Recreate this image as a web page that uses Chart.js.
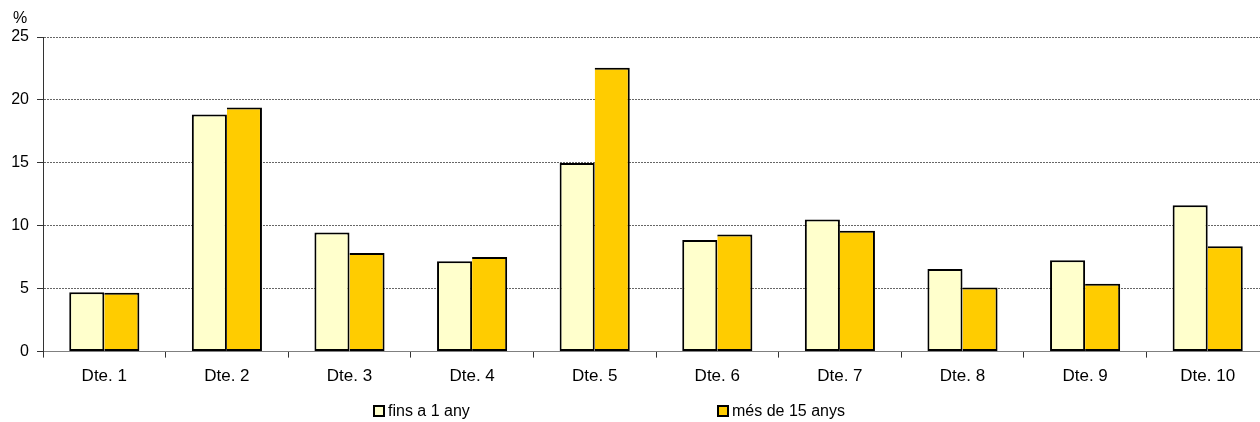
<!DOCTYPE html>
<html>
<head>
<meta charset="utf-8">
<script src="https://cdn.jsdelivr.net/npm/chart.js@4.4.1/dist/chart.umd.min.js"></script>
<style>
    html, body { margin: 0; padding: 0; background: #fff; overflow: hidden; }
    #wrap { position: relative; width: 1260px; height: 422px; overflow: hidden; }
    #box { position: absolute; left: 0; top: 0; width: 1270px; height: 422px; }
    .leg { position: absolute; top: 402px; display: flex; align-items: center;
           font-family: "Liberation Sans", Arial, sans-serif; font-size: 16px; color: #000; line-height: 18px; }
    .leg span.sw { display: inline-block; width: 8px; height: 8px; border: 2px solid #000; margin-right: 3px; }
</style>
</head>
<body>
<div id="wrap">
    <div id="box"><canvas id="barChart"></canvas></div>
</div>
<script>
// districtes
const labels = ["Dte. 1", "Dte. 2", "Dte. 3", "Dte. 4", "Dte. 5", "Dte. 6", "Dte. 7", "Dte. 8", "Dte. 9", "Dte. 10"];
const finsData = [4.72, 18.85, 9.47, 7.17, 14.98, 8.87, 10.5, 6.56, 7.25, 11.62];
const mesData = [4.67, 19.4, 7.83, 7.52, 22.56, 9.31, 9.6, 5.1, 5.4, 8.38];
const seriesNames = ["fins a 1 any", "més de 15 anys"];
const seriesColors = ["#FFFFCC", "#FFCC00"];
const yTicks = [0, 5, 10, 15, 20, 25];

const FONT = "'Liberation Sans', Arial, sans-serif";

// "%" sobre l'eix
const percentLabel = {
    id: 'percentLabel',
    afterDraw(chart) {
        const ctx = chart.ctx;
        const y = chart.scales.y;
        ctx.save();
        ctx.font = "16px " + FONT;
        ctx.fillStyle = "#000";
        ctx.textAlign = "center";
        ctx.textBaseline = "middle";
        ctx.fillText("%", y.left + 20, y.top - 18);
        ctx.restore();
    }
};

new Chart("barChart", {
    type: "bar",
    data: {
        labels: labels,
        datasets: [{
            label: seriesNames[0],
            data: finsData,
            backgroundColor: seriesColors[0],
            borderColor: "#000",
            borderWidth: 2,
            borderSkipped: false,
            inflateAmount: 0
        }, {
            label: seriesNames[1],
            data: mesData,
            backgroundColor: seriesColors[1],
            borderColor: "#000",
            borderWidth: {top: 2, left: 0, bottom: 2, right: 2},
            borderSkipped: false,
            inflateAmount: 0
        }]
    },
    options: {
        responsive: true,
        maintainAspectRatio: false,
        animation: false,
        layout: { padding: { top: 37, left: 0, right: 1, bottom: 26 } },
        datasets: { bar: { categoryPercentage: 0.572, barPercentage: 1.0 } },
        plugins: {
            legend: { display: false },
            tooltip: { enabled: false }
        },
        scales: {
            x: {
                grid: { display: true, drawOnChartArea: false, drawTicks: true, tickLength: 6,
                        tickColor: "#333", offset: true },
                border: { display: true, color: "#808080", width: 1 },
                ticks: { color: "#000", font: { family: FONT, size: 17 }, padding: 9, maxRotation: 0 }
            },
            y: {
                min: 0, max: 25,
                afterFit(s) { s.width = 43; },
                afterBuildTicks(s) { s.ticks = yTicks.map(v => ({ value: v })); },
                grid: { color: "#666", tickLength: 6, tickColor: "#333",
                        tickBorderDash: [], drawTicks: true },
                border: { display: true, color: "#333", width: 1, dash: [2, 1] },
                ticks: { color: "#000", font: { family: FONT, size: 16 }, padding: 8 }
            }
        }
    },
    plugins: [percentLabel]
});

// llegenda
const legendX = [373, 717];
seriesNames.forEach((name, i) => {
    const d = document.createElement("div");
    d.className = "leg";
    d.style.left = legendX[i] + "px";
    const sw = document.createElement("span");
    sw.className = "sw";
    sw.style.background = seriesColors[i];
    d.appendChild(sw);
    d.appendChild(document.createTextNode(name));
    document.getElementById("wrap").appendChild(d);
});
</script>
</body>
</html>
